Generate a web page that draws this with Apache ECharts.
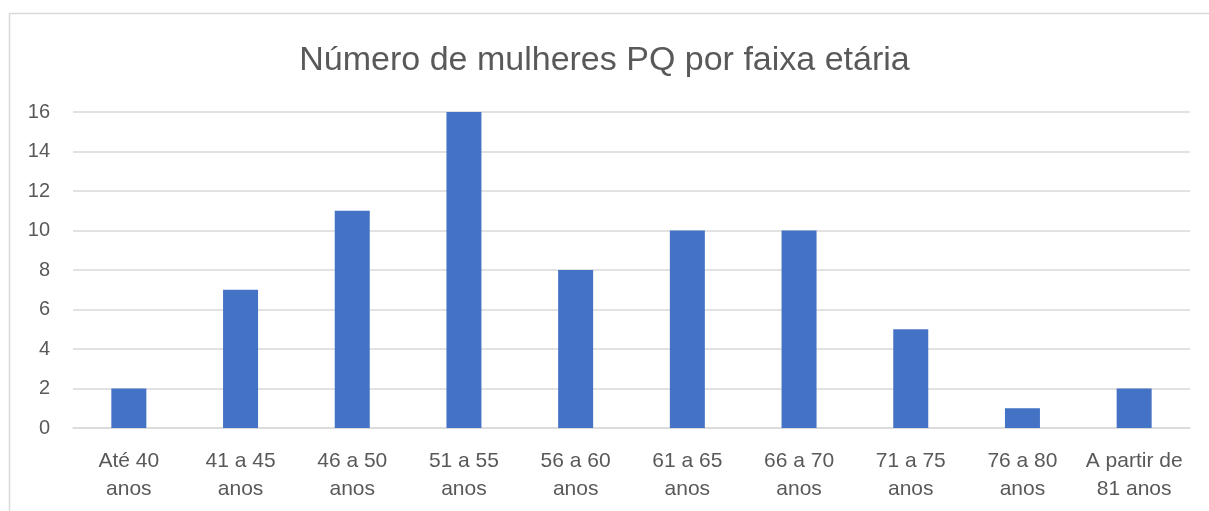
<!DOCTYPE html>
<html>
<head>
<meta charset="utf-8">
<script src="https://cdn.jsdelivr.net/npm/echarts@6/dist/echarts.min.js"></script>
<style>
  html, body { margin: 0; padding: 0; background: #fff; }
  #chart { width: 1209px; height: 511px; }
</style>
</head>
<body>
<div id="chart"></div>
<script>
// categorias (faixa etária)
var categories = ['Até 40\nanos', '41 a 45\nanos', '46 a 50\nanos', '51 a 55\nanos', '56 a 60\nanos',
                  '61 a 65\nanos', '66 a 70\nanos', '71 a 75\nanos', '76 a 80\nanos', 'A partir de\n81 anos'];
// número de mulheres PQ
var values = [2, 7, 11, 16, 8, 10, 10, 5, 1, 2];

var myChart = echarts.init(document.getElementById('chart'));
var fontFam = 'Liberation Sans, Arial, sans-serif';

myChart.setOption({
    animation: false,
    title: {
        text: 'Número de mulheres PQ por faixa etária',
        left: 'center',
        top: 39,
        textStyle: { color: '#595959', fontSize: 34, fontWeight: 'normal', fontFamily: fontFam }
    },
    graphic: [{
        type: 'rect',
        shape: { x: 9.5, y: 13.5, width: 1210, height: 520 },
        style: { fill: 'none', stroke: '#d9d9d9', lineWidth: 1.5 },
        silent: true
    }],
    grid: { left: 73, right: 19, top: 112, bottom: 83 },
    xAxis: {
        type: 'category',
        data: categories,
        axisLine: { lineStyle: { color: '#d9d9d9', width: 1.5 } },
        axisTick: { show: false },
        axisLabel: {
            color: '#595959', fontSize: 21, fontFamily: fontFam,
            lineHeight: 28, margin: 19, interval: 0
        }
    },
    yAxis: {
        type: 'value',
        min: 0,
        max: 16,
        interval: 2,
        axisLine: { show: false },
        axisTick: { show: false },
        axisLabel: { color: '#595959', fontSize: 20, fontFamily: fontFam, margin: 23 },
        splitLine: { lineStyle: { color: '#d9d9d9', width: 1.5 } }
    },
    series: [{
        name: 'Número de mulheres',
        type: 'bar',
        data: values,
        barWidth: 35,
        itemStyle: { color: '#4472C4' }
    }]
});
</script>
</body>
</html>
